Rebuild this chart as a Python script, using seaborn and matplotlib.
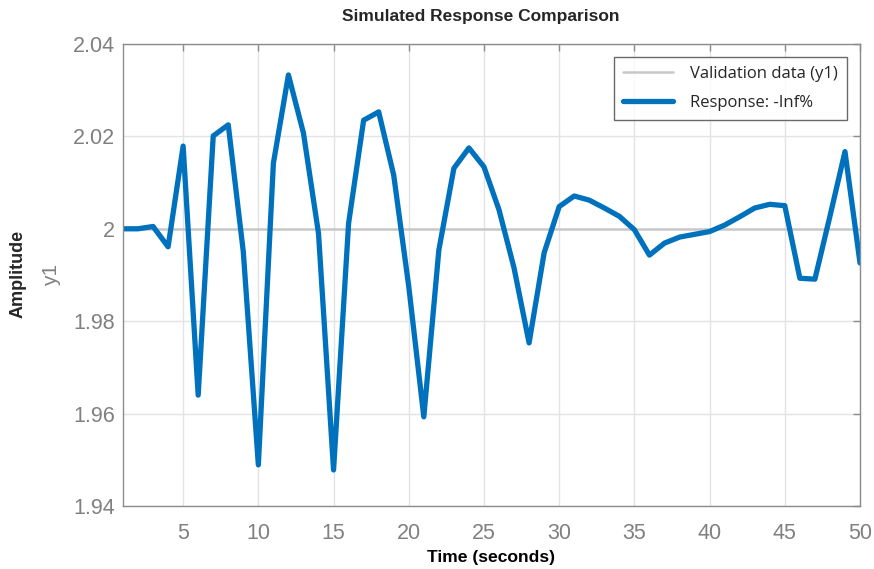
import numpy as np
import pandas as pd
import matplotlib
matplotlib.use("Agg")
import matplotlib.pyplot as plt
import matplotlib.ticker as mticker
import seaborn as sns

# values
time_s = list(range(1, 51))
response = [2.0000, 2.0000, 2.0005, 1.9961, 2.0179, 1.9640, 2.0201, 2.0225, 1.9950, 1.9489,
            2.0142, 2.0333, 2.0207, 1.9990, 1.9478, 2.0012, 2.0235, 2.0253, 2.0116, 1.9875,
            1.9593, 1.9954, 2.0131, 2.0175, 2.0134, 2.0041, 1.9915, 1.9753, 1.9948, 2.0048,
            2.0071, 2.0062, 2.0045, 2.0027, 1.9998, 1.9943, 1.9969, 1.9982, 1.9988, 1.9994,
            2.0008, 2.0026, 2.0045, 2.0053, 2.0050, 1.9893, 1.9891, 2.0027, 2.0167, 1.9926]
validation = [2.0] * len(time_s)

x_ticks = [5, 10, 15, 20, 25, 30, 35, 40, 45, 50]
y_ticks = [1.94, 1.96, 1.98, 2.00, 2.02, 2.04]

df = pd.DataFrame({"Time": time_s, "Validation": validation, "Response": response})

sns.set_theme(style="whitegrid")
plt.rcParams["font.family"] = ["Liberation Sans", "DejaVu Sans"]

fig = plt.figure(figsize=(8.74, 5.69), dpi=100)
ax = fig.add_axes([0.1407, 0.1107, 0.8433, 0.812])

sns.lineplot(data=df, x="Time", y="Validation", ax=ax, color="#c8c8c8", linewidth=1.8,
             label="Validation data (y1)")
sns.lineplot(data=df, x="Time", y="Response", ax=ax, color="#0072BD", linewidth=3.8,
             label="Response: -Inf%")

ax.set_xlim(1, 50)
ax.set_ylim(1.94, 2.04)
ax.set_xticks(x_ticks)
ax.set_yticks(y_ticks)
ax.yaxis.set_major_formatter(mticker.FuncFormatter(lambda v, p: f"{v:g}"))

ax.grid(True, color="#e3e3e3", linewidth=1.0)
for s in ax.spines.values():
    s.set_color("#8c8c8c")
    s.set_linewidth(1.0)
ax.tick_params(axis="both", which="major", direction="in", length=5, width=1,
               color="#8c8c8c", labelcolor="#808080", labelsize=15.5,
               top=True, right=True, pad=6)
ax.tick_params(axis="x", pad=12.5)

ax.set_xlabel("Time (seconds)", fontsize=12.6, fontweight="bold", color="black", labelpad=4)
ax.set_ylabel("y1", fontsize=15, color="#808080", labelpad=8)
fig.text(18 / 874, 1 - 274 / 569, "Amplitude", rotation=90, fontsize=13, fontweight="bold",
         ha="center", va="center")
fig.text(481 / 874, 1 - 17 / 569, "Simulated Response Comparison", fontsize=12.5,
         fontweight="bold", ha="center", va="center")

leg = ax.legend(loc="upper right", bbox_to_anchor=(0.982, 0.972), borderaxespad=0,
                frameon=True, fancybox=False, handlelength=3.0, handletextpad=1.0,
                borderpad=0.55, labelspacing=0.75,
                prop={"family": ["Open Sans", "DejaVu Sans"], "size": 12})
leg.get_frame().set_edgecolor("#444444")
leg.get_frame().set_linewidth(1.0)

fig.savefig("out.png", dpi=100)
